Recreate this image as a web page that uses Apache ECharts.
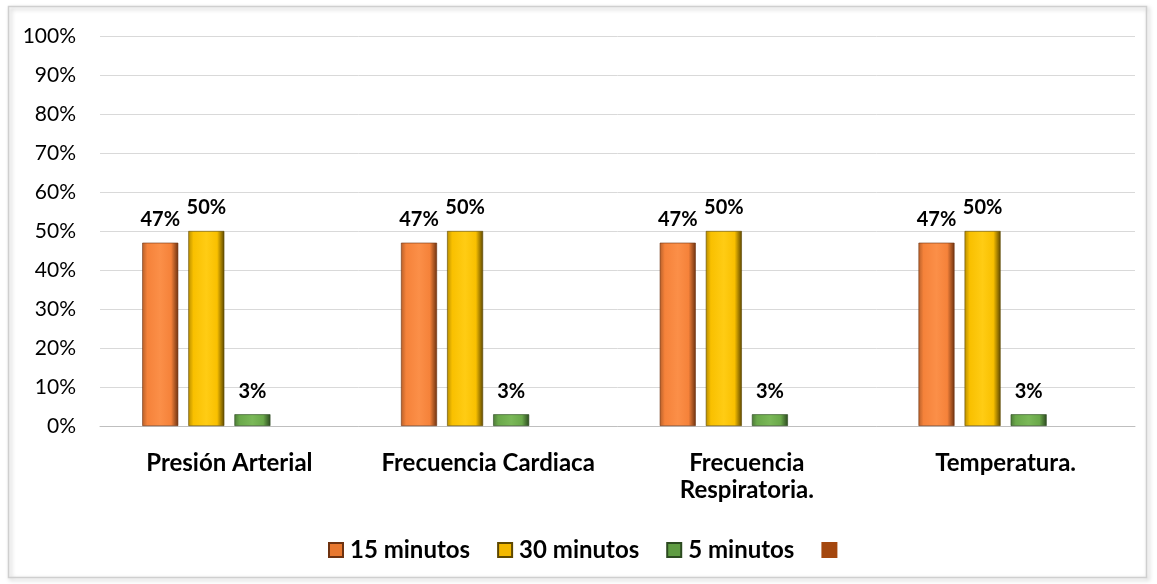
<!DOCTYPE html>
<html>
<head>
<meta charset="utf-8">
<script src="https://cdn.jsdelivr.net/npm/echarts@6/dist/echarts.min.js"></script>
<style>
  html, body { margin: 0; padding: 0; background: #ffffff; }
  #chart { width: 1157px; height: 584px; }
</style>
</head>
<body>
<div id="chart"></div>
<script>
// Vital signs stabilization time, share of patients per category
const categories = ['Presión Arterial', 'Frecuencia Cardiaca', 'Frecuencia\nRespiratoria.', 'Temperatura.'];
const seriesNames = ['15 minutos', '30 minutos', '5 minutos', ' '];
const min15 = [47, 47, 47, 47];
const min30 = [50, 50, 50, 50];
const min5 = [3, 3, 3, 3];
const extra = [null, null, null, null];
const yTicks = [0, 10, 20, 30, 40, 50, 60, 70, 80, 90, 100];

const FONT = 'Lato';

// Bevelled bar fill: shaded left edge, bright body, dark right edge
function bevel(left, base, light, right) {
  return new echarts.graphic.LinearGradient(0, 0, 1, 0, [
    { offset: 0, color: left },
    { offset: 0.14, color: base },
    { offset: 0.5, color: light },
    { offset: 0.8, color: base },
    { offset: 1, color: right }
  ]);
}

const palettes = [
  { left: '#b8602a', base: '#f5823a', light: '#fb8f48', right: '#6e3210', legend: '#e8782f' },
  { left: '#b88e00', base: '#f9c000', light: '#ffcc14', right: '#5e4800', legend: '#f2b800' },
  { left: '#4d7a38', base: '#6aa84a', light: '#7ab858', right: '#2c4a20', legend: '#5f9c42' },
  { left: '#a4470e', base: '#a4470e', light: '#a4470e', right: '#a4470e', legend: '#a4470e' }
];

const dataSets = [min15, min30, min5, extra];

const series = dataSets.map((d, i) => ({
  name: seriesNames[i],
  type: 'bar',
  data: d,
  barWidth: 36,
  barGap: '28%',
  barCategoryGap: '33%',
  itemStyle: {
    color: bevel(palettes[i].left, palettes[i].base, palettes[i].light, palettes[i].right),
    borderColor: palettes[i].right,
    borderWidth: 0.6
  },
  label: {
    show: true,
    position: 'top',
    distance: 13,
    formatter: p => p.value + '%',
    fontFamily: FONT,
    fontWeight: 'bold',
    fontSize: 20,
    color: '#000'
  }
}));

const chart = echarts.init(document.getElementById('chart'), null, { renderer: 'canvas' });
chart.setOption({
  animation: false,
  backgroundColor: '#ffffff',
  color: palettes.map(p => p.legend),
  graphic: [{
    type: 'rect',
    shape: { x: 8.5, y: 6.5, width: 1138, height: 571 },
    style: {
      fill: 'rgba(0,0,0,0)',
      stroke: '#cfcfcf',
      lineWidth: 1.5,
      shadowBlur: 4,
      shadowColor: 'rgba(0,0,0,0.25)',
      shadowOffsetX: 2,
      shadowOffsetY: 2
    },
    z: -1
  }],
  grid: { left: 100, right: 22, top: 36, bottom: 158, containLabel: false },
  legend: {
    bottom: 17,
    left: 323,
    itemWidth: 14,
    itemHeight: 14,
    itemGap: 27,
    icon: 'rect',
    textStyle: { fontFamily: FONT, fontWeight: 'bold', fontSize: 24, color: '#000', padding: [0, 0, 0, 2] },
    data: seriesNames.map((n, i) => ({ name: n, itemStyle: { color: palettes[i].legend } }))
  },
  xAxis: {
    type: 'category',
    data: categories,
    axisLine: { lineStyle: { color: '#bfbfbf' } },
    axisTick: { show: false },
    axisLabel: {
      margin: 24,
      interval: 0,
      fontFamily: FONT,
      fontWeight: 'bold',
      fontSize: 24,
      lineHeight: 27,
      color: '#000'
    }
  },
  yAxis: {
    type: 'value',
    min: yTicks[0],
    max: yTicks[yTicks.length - 1],
    interval: 10,
    axisLine: { show: false },
    axisTick: { show: false },
    splitLine: { lineStyle: { color: '#d9d9d9', width: 1 } },
    axisLabel: {
      margin: 24,
      formatter: v => v + '%',
      fontFamily: FONT,
      fontSize: 21,
      color: '#000'
    }
  },
  series: series
});
</script>
</body>
</html>
